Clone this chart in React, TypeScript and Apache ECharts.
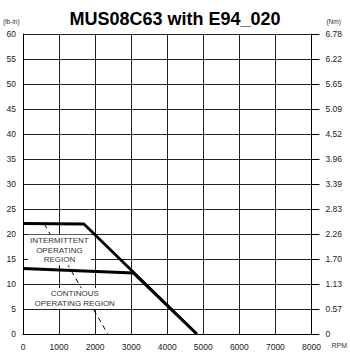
import React, { useEffect, useRef } from "react";
import * as echarts from "echarts";

// Speed axis (RPM)
const rpmTicks = [0, 1000, 2000, 3000, 4000, 5000, 6000, 7000, 8000];
// Torque axis labels, lb-in (left) and Nm (right)
const lbInTicks = [0, 5, 10, 15, 20, 25, 30, 35, 40, 45, 50, 55, 60];
const nmTicks = ["0", "0.57", "1.13", "1.70", "2.26", "2.83", "3.39", "3.96", "4.52", "5.09", "5.65", "6.22", "6.78"];

// Torque curves: [rpm, lb-in]
const intermittentCurve: [number, number][] = [
  [0, 22.1],
  [1690, 22.0],
  [4820, 0],
];
const continuousCurve: [number, number][] = [
  [0, 13.1],
  [3060, 12.2],
  [4820, 0],
];
// Dashed boundary line
const boundaryLine: [number, number][] = [
  [590, 22.0],
  [2350, 0],
];

// Region captions placed at data coordinates
const intermittentLabel = { rpm: 1010, torque: 16.8, text: "INTERMITTENT\nOPERATING\nREGION" };
const continuousLabel = { rpm: 1435, torque: 7.1, text: "CONTINOUS\nOPERATING REGION" };

const FONT = "'Liberation Sans Narrow', 'Liberation Sans', Arial, sans-serif";

export default function App() {
  const ref = useRef<HTMLDivElement>(null);

  useEffect(() => {
    if (!ref.current) return;
    const chart = echarts.init(ref.current, null, { renderer: "svg" });
    const nmStep = 6.78 / 12;

    chart.setOption({
      animation: false,
      backgroundColor: "#ffffff",
      title: {
        text: "MUS08C63 with E94_020",
        left: "center",
        top: 5,
        textStyle: { fontFamily: "'Liberation Sans', Arial, sans-serif", fontSize: 18, fontWeight: "bold", color: "#000" },
      },
      grid: { left: 22, right: 38, top: 34, bottom: 22 },
      xAxis: {
        type: "value",
        min: 0,
        max: 8000,
        interval: 1000,
        name: "RPM",
        nameLocation: "end",
        nameGap: 20,
        nameTextStyle: { fontFamily: FONT, fontSize: 7, color: "#333", verticalAlign: "top", padding: [8, 0, 0, 0] },
        axisLine: { show: true, lineStyle: { color: "#000", width: 1 } },
        axisTick: { show: false },
        axisLabel: {
          fontFamily: FONT,
          fontSize: 8.5,
          color: "#222",
          margin: 8,
          formatter: (v: number) => String(rpmTicks[Math.round(v / 1000)] ?? v),
        },
        splitLine: { show: true, lineStyle: { color: "#222", width: 1 } },
      },
      yAxis: [
        {
          type: "value",
          min: 0,
          max: 60,
          interval: 5,
          name: "(lb-in)",
          nameLocation: "end",
          nameGap: 9,
          nameTextStyle: { fontFamily: FONT, fontSize: 6.5, color: "#333", align: "left", padding: [0, 0, 0, -20] },
          axisLine: { show: true, lineStyle: { color: "#000", width: 1 } },
          axisTick: { show: false },
          axisLabel: {
            fontFamily: FONT,
            fontSize: 8.5,
            color: "#222",
            margin: 7,
            formatter: (v: number) => String(lbInTicks[Math.round(v / 5)] ?? v),
          },
          splitLine: { show: true, lineStyle: { color: "#222", width: 1 } },
        },
        {
          type: "value",
          min: 0,
          max: 6.78,
          interval: nmStep,
          position: "right",
          name: "(Nm)",
          nameLocation: "end",
          nameGap: 9,
          nameTextStyle: { fontFamily: FONT, fontSize: 6.5, color: "#333", align: "left", padding: [0, 0, 0, 15] },
          axisLine: { show: true, lineStyle: { color: "#000", width: 1 } },
          axisTick: { show: true, inside: false, length: 8, lineStyle: { color: "#000", width: 1 } },
          axisLabel: {
            fontFamily: FONT,
            fontSize: 8.5,
            color: "#222",
            margin: 14,
            formatter: (v: number) => nmTicks[Math.round(v / nmStep)] ?? "",
          },
          splitLine: { show: false },
        },
      ],
      series: [
        {
          name: "boundary",
          type: "line",
          data: boundaryLine,
          symbol: "none",
          lineStyle: { color: "#000", width: 1, type: [5, 4] },
          z: 3,
        },
        {
          name: "intermittent",
          type: "line",
          data: intermittentCurve,
          symbol: "none",
          lineStyle: { color: "#000", width: 2.8 },
          z: 4,
        },
        {
          name: "continuous",
          type: "line",
          data: continuousCurve,
          symbol: "none",
          lineStyle: { color: "#000", width: 2.8 },
          z: 4,
        },
      ],
    });

    const labelGraphic = (lbl: { rpm: number; torque: number; text: string }) => {
      const [x, y] = chart.convertToPixel({ gridIndex: 0 }, [lbl.rpm, lbl.torque]) as number[];
      return {
        type: "text",
        x,
        y,
        z: 10,
        style: {
          text: lbl.text,
          fill: "#333",
          font: `8px 'Liberation Sans', Arial, sans-serif`,
          align: "center",
          verticalAlign: "middle",
          lineHeight: 9.5,
          backgroundColor: "#ffffff",
          padding: [1, 2, 1, 2],
        },
      };
    };

    chart.setOption({
      graphic: [labelGraphic(intermittentLabel), labelGraphic(continuousLabel)],
    });

    return () => chart.dispose();
  }, []);

  return <div ref={ref} style={{ width: 350, height: 356, position: "absolute", left: 0, top: 0 }} />;
}
